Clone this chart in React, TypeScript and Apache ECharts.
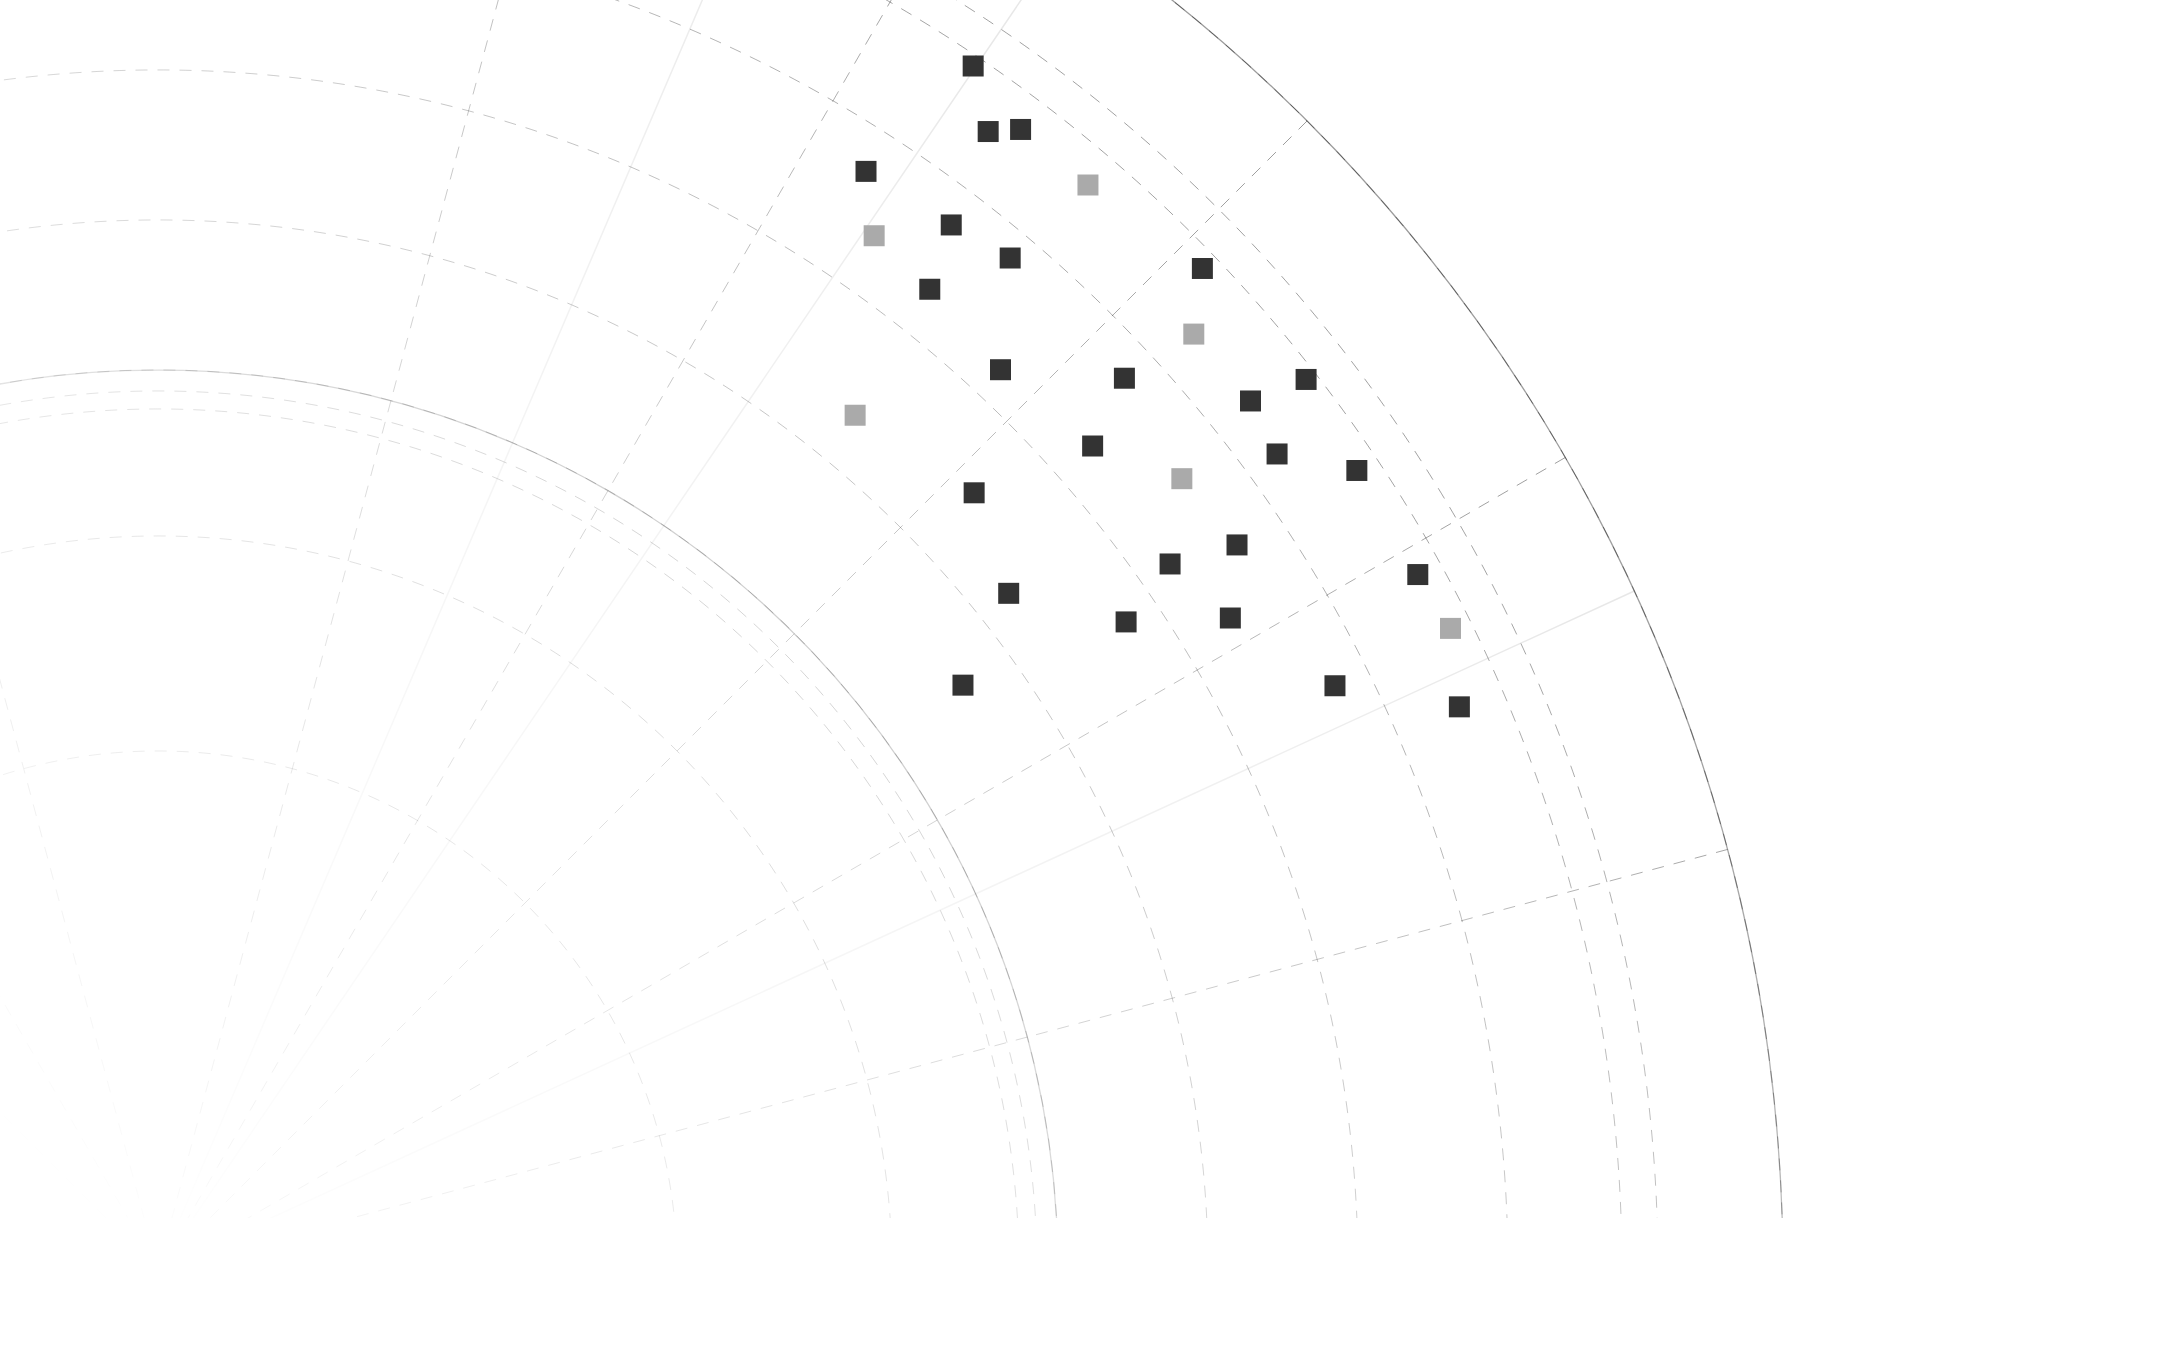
import React, { useEffect, useRef } from "react";
import * as echarts from "echarts";

// ---- layout constants (pixels) ----
const CENTER = [158, 1270];
const INNER_RADIUS = 900;
const OUTER_RADIUS = 1625;

// radius-axis range of the outer ring (values == radius in px)
const RING_MIN = 900;
const RING_MAX = 1625;
const RING_INTERVAL = 150;

// angle grid
const ANGLE_STEP = 15;
const HIDDEN_ANGLE = 90;

// extra dashed circles
const innerDashedRadii = [519, 734, 861, 879];
const outerDashedRadii = [1464];

// faint solid spokes
const spokeAngles = [24.7, 55.8, 66.8];

// ---- data: [radius, angle] ----
const darkRadius = [1454, 1409, 1430, 1307, 1312, 1323, 1248, 1447, 1233, 1315, 1453, 1396, 1246, 1385, 1441, 1127, 1300, 1234, 1439, 1087, 1165, 1255, 995, 1314, 1418];
const darkAngle = [55.9, 53.9, 52.9, 57.2, 52.8, 49.9, 51.8, 43.8, 46.9, 42.7, 37.8, 38.5, 41.4, 36.1, 33.7, 43.6, 33.9, 34.9, 28.9, 38.5, 33.8, 31.3, 36.0, 26.4, 23.4];
const lightRadius = [1429, 1258, 1396, 1103, 1294, 1443];
const lightAngle = [49.4, 55.3, 42.1, 50.8, 37.7, 26.4];

const grad = (k: number) => ({
  type: "linear",
  x: 636,
  y: -636,
  x2: -566,
  y2: 566,
  global: true,
  colorStops: [
    { offset: 0, color: `rgba(0,0,0,${0.4 * k})` },
    { offset: 0.15, color: `rgba(0,0,0,${0.36 * k})` },
    { offset: 0.3, color: `rgba(0,0,0,${0.26 * k})` },
    { offset: 0.53, color: `rgba(0,0,0,${0.16 * k})` },
    { offset: 0.65, color: `rgba(0,0,0,${0.12 * k})` },
    { offset: 0.88, color: `rgba(0,0,0,${0.05 * k})` },
    { offset: 1, color: "rgba(0,0,0,0)" },
  ],
});

const spokeColors = (k: number) => {
  const n = 360 / ANGLE_STEP;
  const arr: any[] = [];
  for (let i = 0; i < n; i++) {
    arr.push(i * ANGLE_STEP === HIDDEN_ANGLE ? "rgba(0,0,0,0)" : grad(k));
  }
  return arr;
};

const DASH = [12, 10];

function buildOption() {
  const polar: any[] = [];
  const angleAxis: any[] = [];
  const radiusAxis: any[] = [];
  const off = { show: false };
  const add = (radius: any, a: any, r: any) => {
    const idx = polar.length;
    polar.push({ center: CENTER, radius });
    angleAxis.push({
      polarIndex: idx,
      type: "value",
      min: 0,
      max: 360,
      interval: ANGLE_STEP,
      startAngle: 0,
      clockwise: false,
      axisLabel: off,
      axisTick: off,
      splitLine: off,
      axisLine: off,
      ...a,
    });
    radiusAxis.push({
      polarIndex: idx,
      type: "value",
      axisLabel: off,
      axisTick: off,
      splitLine: off,
      axisLine: off,
      ...r,
    });
    return idx;
  };

  // inner disc: faint dashed spokes
  add(INNER_RADIUS, {
    splitLine: { show: true, lineStyle: { color: spokeColors(0.95), width: 1, type: DASH } },
  }, {});

  // outer ring: solid border circles, dashed spokes and dashed rings
  const ringIdx = add([INNER_RADIUS, OUTER_RADIUS], {
    axisLine: { show: true, lineStyle: { color: grad(1), width: 1.3, type: "solid" } },
    splitLine: { show: true, lineStyle: { color: spokeColors(1), width: 1, type: DASH } },
  }, {
    min: RING_MIN,
    max: RING_MAX,
    interval: RING_INTERVAL,
    splitLine: { show: true, lineStyle: { color: grad(1), width: 1, type: DASH } },
  });

  innerDashedRadii.forEach((rr) => {
    add(rr, { axisLine: { show: true, lineStyle: { color: grad(0.9), width: 1, type: DASH } } }, {});
  });
  outerDashedRadii.forEach((rr) => {
    add(rr, { axisLine: { show: true, lineStyle: { color: grad(1), width: 1, type: DASH } } }, {});
  });
  spokeAngles.forEach((ang) => {
    add(OUTER_RADIUS, { startAngle: ang }, {
      axisLine: { show: true, lineStyle: { color: grad(0.25), width: 1.5, type: "solid" } },
    });
  });

  const dark = darkRadius.map((r, i) => [r, darkAngle[i]]);
  const light = lightRadius.map((r, i) => [r, lightAngle[i]]);

  return {
    animation: false,
    backgroundColor: "#ffffff",
    polar,
    angleAxis,
    radiusAxis,
    series: [
      {
        type: "scatter",
        coordinateSystem: "polar",
        polarIndex: ringIdx,
        symbol: "rect",
        symbolSize: 21,
        itemStyle: { color: "#333333", opacity: 1 },
        data: dark,
        z: 5,
      },
      {
        type: "scatter",
        coordinateSystem: "polar",
        polarIndex: ringIdx,
        symbol: "rect",
        symbolSize: 21,
        itemStyle: { color: "#aaaaaa", opacity: 1 },
        data: light,
        z: 5,
      },
    ],
  };
}

export default function App() {
  const ref = useRef<HTMLDivElement>(null);
  useEffect(() => {
    if (!ref.current) return;
    const chart = echarts.init(ref.current, undefined, { renderer: "svg" });
    chart.setOption(buildOption() as any);
    return () => chart.dispose();
  }, []);
  return (
    <div
      ref={ref}
      style={{ position: "absolute", left: 0, top: 0, width: 2160, height: 1218, background: "#fff" }}
    />
  );
}
